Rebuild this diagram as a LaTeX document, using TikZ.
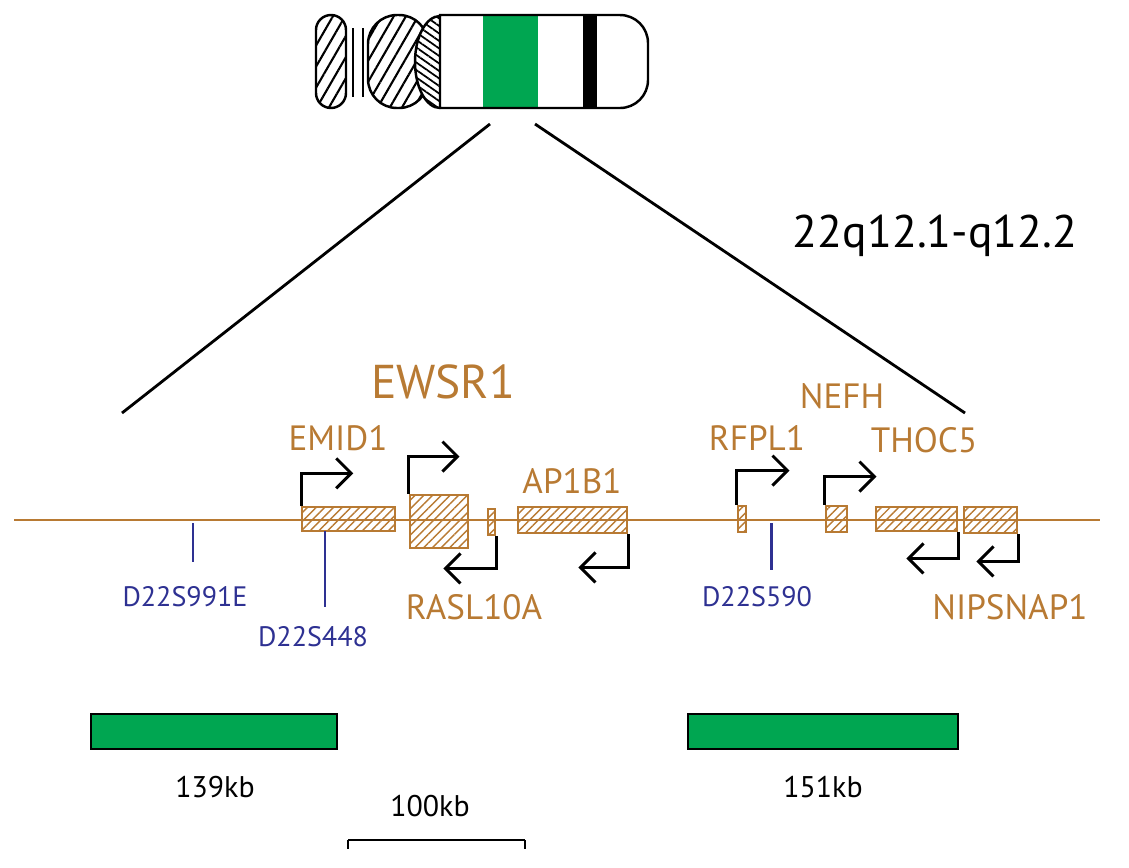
\documentclass[tikz,border=0pt]{standalone}
\usepackage{fontspec}
\setmainfont{PT Sans}
\usetikzlibrary{arrows.meta,patterns,patterns.meta}
\definecolor{genebrown}{HTML}{B87A33}
\definecolor{markblue}{HTML}{2E3192}
\definecolor{bandgreen}{HTML}{00A651}
\tikzset{
  genebox/.style={draw=genebrown,line width=1.6pt,inner sep=0pt,
    pattern={Lines[angle=45,distance=3.5pt,line width=0.8pt]},pattern color=genebrown},
  genelabel/.style={text=genebrown,font=\fontsize{20}{22}\selectfont},
  marklabel/.style={text=markblue,font=\fontsize{16}{18}\selectfont},
  tss/.style={line width=1.7pt,-{Straight Barb[length=3mm,width=6mm,line width=1.7pt]}},
  marker/.style={markblue,line width=1.7pt},
  kbbar/.style={draw=black,fill=bandgreen,line width=1.6pt,inner sep=0pt,minimum height=0.7cm},
}
\begin{document}
\begin{tikzpicture}[x=0.02cm,y=-0.02cm]
      \useasboundingbox (0,0) rectangle (1129,867);

      % chromosome ideogram
      \draw[line width=1.4pt,rounded corners=0.3cm,pattern={Lines[angle=60,distance=6pt,line width=1.2pt]}]
        (316,15) rectangle (346,108);
      \draw[line width=1.4pt] (353,28) -- (353,97) (363,28) -- (363,97);
      \draw[line width=1.4pt,rounded corners=0.58cm,pattern={Lines[angle=60,distance=6pt,line width=1.2pt]}]
        (368,15) rectangle (428,108);
      \begin{scope}
        \clip (400,10) rectangle (440,112);
        \draw[line width=1.4pt,fill=white] (440,62) ellipse ({25*0.02cm} and {46*0.02cm});
        \fill[pattern={Lines[angle=-35,distance=3.5pt,line width=1pt]}] (440,62) ellipse ({25*0.02cm} and {46*0.02cm});
      \end{scope}
      \fill[bandgreen] (483,15) rectangle (538,108);
      \fill[black] (583,15) rectangle (597,108);
      \draw[line width=1.4pt] (440,108) -- (440,15) [rounded corners=0.56cm] -- (648,15) -- (648,108) -- (440,108);

      % zoom lines
      \coordinate (zl) at (490,124);
      \coordinate (zr) at (535,124);
      \coordinate (bl) at (122,413);
      \coordinate (br) at (965,413);
      \draw[line width=1.6pt] (zl) -- (bl) (zr) -- (br);
      \node[font=\fontsize{26}{28}\selectfont] (band) at (935,236) {22q12.1-q12.2};

      % genomic line and genes
      \coordinate (lstart) at (14,520);
      \coordinate (lend) at (1100,520);
      \draw[genebrown,line width=1.6pt] (lstart) -- (lend);

      \node[genebox,minimum width=1.86cm,minimum height=0.48cm] (emid) at (348.5,519) {};
      \node[genebox,minimum width=1.16cm,minimum height=1.06cm] (ewsr) at (439,521.5) {};
      \node[genebox,minimum width=0.14cm,minimum height=0.52cm] (rasl) at (491.5,522) {};
      \node[genebox,minimum width=2.18cm,minimum height=0.52cm] (apb) at (572.5,520) {};
      \node[genebox,minimum width=0.16cm,minimum height=0.52cm] (rfpl) at (742,519) {};
      \node[genebox,minimum width=0.42cm,minimum height=0.52cm] (nefh) at (836.5,519) {};
      \node[genebox,minimum width=1.62cm,minimum height=0.48cm] (thoc) at (916.5,519) {};
      \node[genebox,minimum width=1.06cm,minimum height=0.52cm] (nips) at (990.5,520) {};

      % transcription start arrows
      \draw[tss] (emid.north west) -- ++(0,-33) -- ++(52,0);
      \draw[tss] (ewsr.north west) -- ++(0,-37) -- ++(51,0);
      \draw[tss] (rasl.south east) -- ++(0,32) -- ++(-53,0);
      \draw[tss] (apb.south east) -- ++(0,33) -- ++(-50,0);
      \draw[tss] (rfpl.north west) -- ++(0,-34) -- ++(53,0);
      \draw[tss] (nefh.north west) -- ++(0,-28) -- ++(52,0);
      \draw[tss] (thoc.south east) -- ++(0,26) -- ++(-52,0);
      \draw[tss] (nips.south east) -- ++(0,27) -- ++(-42,0);

      % gene names
      \node[genelabel] (lemid) at (338,438) {EMID1};
      \node[genelabel,font=\fontsize{27}{29}\selectfont] (lewsr) at (443,382) {EWSR1};
      \node[genelabel] (lrasl) at (474,607) {RASL10A};
      \node[genelabel] (lapb) at (572,481) {AP1B1};
      \node[genelabel] (lrfpl) at (757,438) {RFPL1};
      \node[genelabel] (lnefh) at (842,396) {NEFH};
      \node[genelabel] (lthoc) at (924,440) {THOC5};
      \node[genelabel] (lnips) at (1010,607) {NIPSNAP1};

      % markers
      \coordinate (ma) at (193,523);
      \coordinate (mb) at (325,531);
      \coordinate (mc) at (771,523);
      \draw[marker] (ma) -- ++(0,39);
      \draw[marker] (mb) -- ++(0,76);
      \draw[marker] (mc) -- ++(0,47);
      \node[marklabel] (lma) at (185,597) {D22S991E};
      \node[marklabel] (lmb) at (313,637) {D22S448};
      \node[marklabel] (lmc) at (757,597) {D22S590};

      % clone bars and scale
      \node[kbbar,minimum width=4.92cm] (cla) at (214,731.5) {};
      \node[kbbar,minimum width=5.4cm] (clb) at (823,731.5) {};
      \node[font=\fontsize{17}{19}\selectfont] (lcla) at (215,787) {139kb};
      \node[font=\fontsize{17}{19}\selectfont] (lclb) at (823,787) {151kb};
      \coordinate (sa) at (348,840);
      \coordinate (sb) at (525,840);
      \draw[line width=1.6pt] (sa) -- (sb) (sa) -- ++(0,9) (sb) -- ++(0,9);
      \node[font=\fontsize{17}{19}\selectfont] (lscale) at (430,806) {100kb};

\end{tikzpicture}
\end{document}
